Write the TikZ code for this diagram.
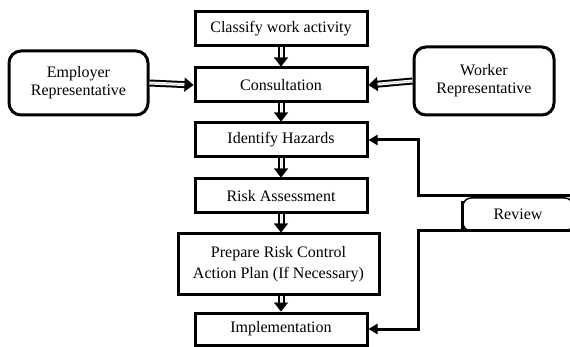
\documentclass[tikz,border=0pt]{standalone}
\usepackage{fontspec}
\setmainfont{Liberation Serif}
\usetikzlibrary{arrows.meta}
\begin{document}
\begin{tikzpicture}[x=1pt,y=-1pt,
  txt/.style={font=\fontsize{16}{18}\selectfont, align=center},
  box/.style={txt, draw, line width=3pt, minimum width=172pt, minimum height=34pt, inner sep=0pt},
  rbox/.style={txt, draw, line width=3pt, rounded corners=12pt, inner sep=0pt},
  dshaft/.style={double, line width=2pt, double distance=3pt, shorten >=6pt},
  dtip/.style={line width=0.01pt, -{Triangle[length=9pt,width=14pt]}},
  fb/.style={line width=3pt, -{Triangle[length=9pt,width=10pt]}}]
\clip (0,0) rectangle (570,347);
\node[box] (classify) at (281,29) {Classify work activity};
\node[box] (consult) at (281,85) {Consultation};
\node[box] (hazards) at (281,140) {Identify Hazards};
\node[box] (risk) at (281,196) {Risk Assessment};
\node[box, minimum width=201pt, minimum height=60pt, font=\fontsize{16}{21}\selectfont] (prepare) at (278.5,264) {Prepare Risk Control\\Action Plan (If Necessary)};
\node[box, minimum height=32pt] (impl) at (281,329) {Implementation};
\node[rbox, minimum width=139pt, minimum height=64pt] (employer) at (78.5,83) {Employer\\Representative};
\node[rbox, minimum width=140pt, minimum height=68pt] (worker) at (484,81) {Worker\\Representative};
\node[txt, draw, line width=1.5pt, rounded corners=8pt, minimum width=110pt, minimum height=33pt, inner sep=0pt] (review) at (518,214.5) {Review};
\draw[line width=3pt] (review.north west) ++(0,4) -- (review.south west);
% double arrows
\foreach \a/\b in {classify.south/consult.north, consult.south/hazards.north, hazards.south/risk.north, risk.south/prepare.north -| risk.south, prepare.south -| impl.north/impl.north, employer.east/consult.west, worker.west/consult.east}{
  \draw[dshaft] (\a) -- (\b);
  \draw[dtip] (\a) -- (\b);
}
% feedback
\coordinate (rtop) at (575,196);
\coordinate (rbot) at (575,231);
\coordinate (c1) at (418,196);
\coordinate (c2) at (418,231);
\draw[fb] (rtop) -- (c1) |- (hazards.east);
\draw[fb] (rbot) -- (c2) |- (impl.east);
\end{tikzpicture}
\end{document}
